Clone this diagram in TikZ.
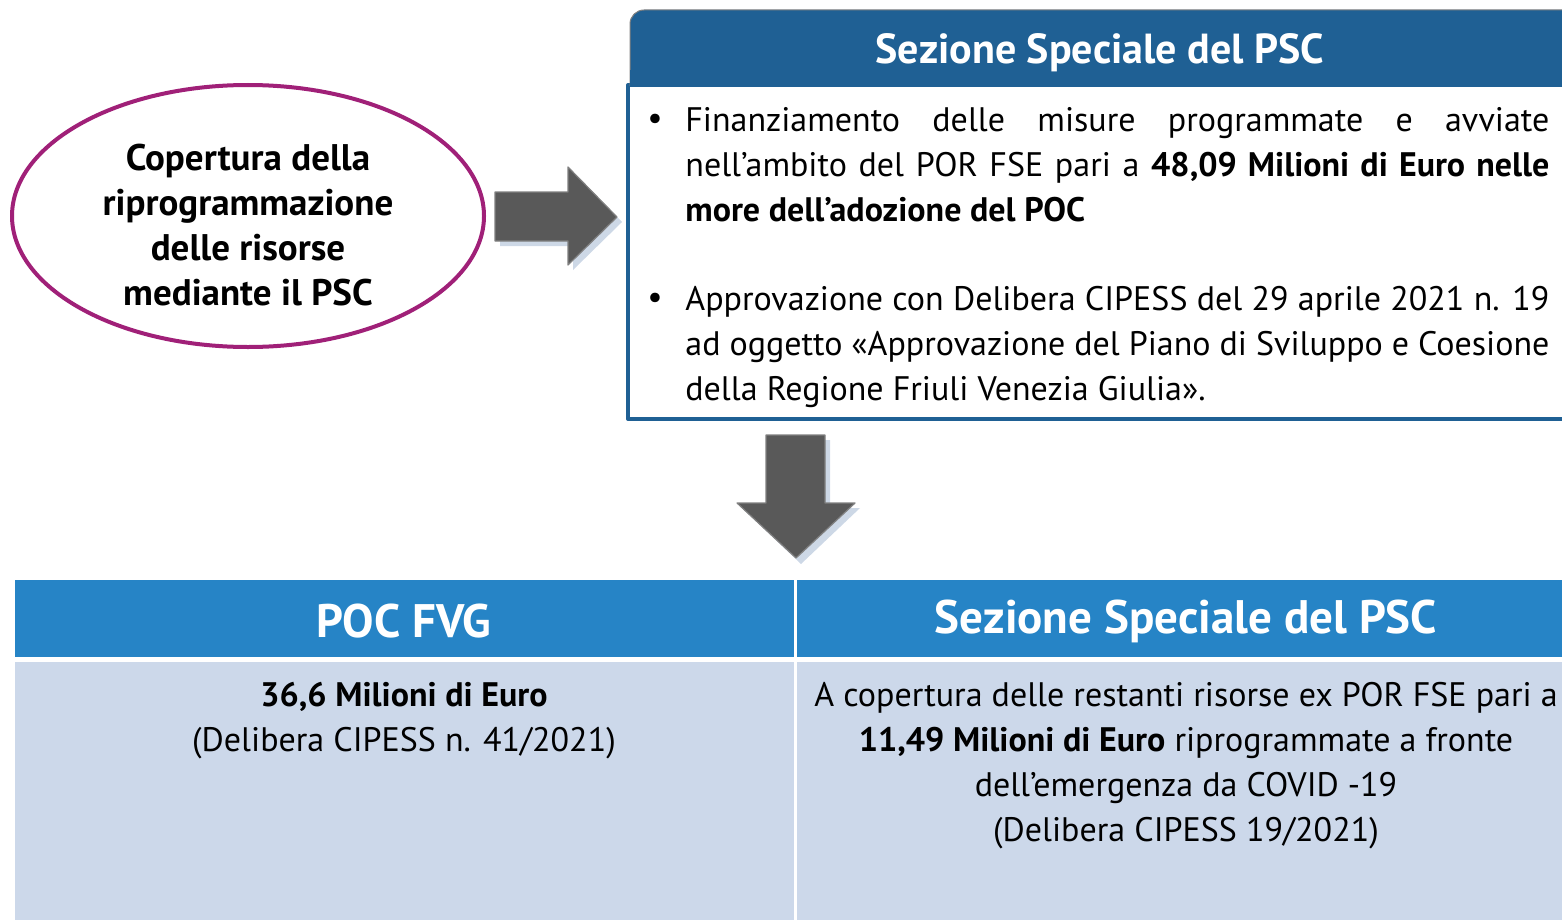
\documentclass[tikz,border=0pt]{standalone}
\usepackage{fontspec}
\setmainfont{PT Sans}
\usetikzlibrary{shapes.geometric}
\definecolor{ovalpurple}{RGB}{160,32,120}
\definecolor{psfblue}{RGB}{31,96,148}
\definecolor{headblue}{RGB}{38,132,198}
\definecolor{cellblue}{RGB}{204,216,234}
\definecolor{arrowgray}{RGB}{89,89,89}
\definecolor{arrowedge}{RGB}{128,128,128}
\definecolor{shadowblue}{RGB}{205,216,230}
\begin{document}
\begin{tikzpicture}[x=0.5pt,y=-0.5pt,
	line join=round,
	every node/.style = {inner sep=0pt, font=\fontsize{17}{22.5}\selectfont},
	oval/.style = {ellipse, draw=ovalpurple, line width=2pt, minimum width=236pt,
		minimum height=131pt},
	ovaltext/.style = {align=center, font=\fontsize{18.5}{22.5}\selectfont\bfseries},
	bigarrow/.style = {fill=arrowgray, draw=arrowedge, line width=0.6pt},
	arrowshadow/.style = {fill=shadowblue},
	bulletpar/.style = {anchor=north west, text width=432pt, align=justify},
	headtext/.style = {text=white, font=\fontsize{21}{25}\selectfont\bfseries},
	tablehead/.style = {text=white, font=\fontsize{23.5}{27}\selectfont\bfseries},
	celltext/.style = {anchor=north, align=center}
	]
	\useasboundingbox (0,0) rectangle (1562,920);
	\clip (0,0) rectangle (1562,920);
	% left oval
	\node[oval] (cover) at (248,216) {};
	\node[ovaltext] (covertext) at (248,225)
	{Copertura della\\riprogrammazione\\delle risorse\\mediante il PSC};
	% arrow to the right
	\fill[arrowshadow] (500,197) -- (573,197) -- (573,172) -- (622,222)
	-- (573,270) -- (573,246) -- (500,246) -- cycle;
	\draw[bigarrow] (495,192) -- (568,192) -- (568,167) -- (617,217)
	-- (568,265) -- (568,241) -- (495,241) -- cycle;
	% top box
	\draw[draw=psfblue, line width=2pt] (628,85) rectangle (1600,419);
	\draw[fill=psfblue, draw=arrowedge, line width=0.5pt, rounded corners=7pt]
	(630,86) -- (630,10) -- (1600,10) -- (1600,86);
	\fill[psfblue] (630,70) rectangle (1600,87);
	\node[headtext] (psctop) at (1100,53) {Sezione Speciale del PSC};
	\node (dot1) at (655,122) {\textbullet};
	\node[bulletpar] (item1) at (685,107)
	{Finanziamento delle misure programmate e avviate\linebreak
		nell’ambito del POR FSE pari a \textbf{48,09 Milioni di Euro nelle}\linebreak
		\textbf{more dell’adozione del POC}};
	\node (dot2) at (655,301) {\textbullet};
	\node[bulletpar] (item2) at (685,286)
	{Approvazione con Delibera CIPESS del 29 aprile 2021 n. 19\linebreak
		ad oggetto «Approvazione del Piano di Sviluppo e Coesione\linebreak
		della Regione Friuli Venezia Giulia».};
	% arrow down
	\fill[arrowshadow] (771,440) -- (830,440) -- (830,508) -- (860,508)
	-- (801,564) -- (742,508) -- (771,508) -- cycle;
	\draw[bigarrow] (766,435) -- (825,435) -- (825,503) -- (855,503)
	-- (796,558) -- (737,503) -- (766,503) -- cycle;
	% table
	\fill[headblue] (15,580) rectangle (1600,657);
	\fill[cellblue] (15,662) rectangle (1600,930);
	\draw[white, line width=1.5pt] (795,575) -- (795,925);
	\node[tablehead] (poc) at (404,621) {POC FVG};
	\node[tablehead] (pscbottom) at (1186,621) {Sezione Speciale del PSC};
	\node[celltext] (pocbody) at (404,682)
	{\textbf{36,6 Milioni di Euro}\\(Delibera CIPESS n. 41/2021)};
	\node[celltext] (pscbody) at (1186,682)
	{A copertura delle restanti risorse ex POR FSE\ pari a\\
		\textbf{11,49 Milioni di Euro} riprogrammate a fronte\\
		dell’emergenza da COVID -19\\(Delibera CIPESS 19/2021)};
\end{tikzpicture}
\end{document}
